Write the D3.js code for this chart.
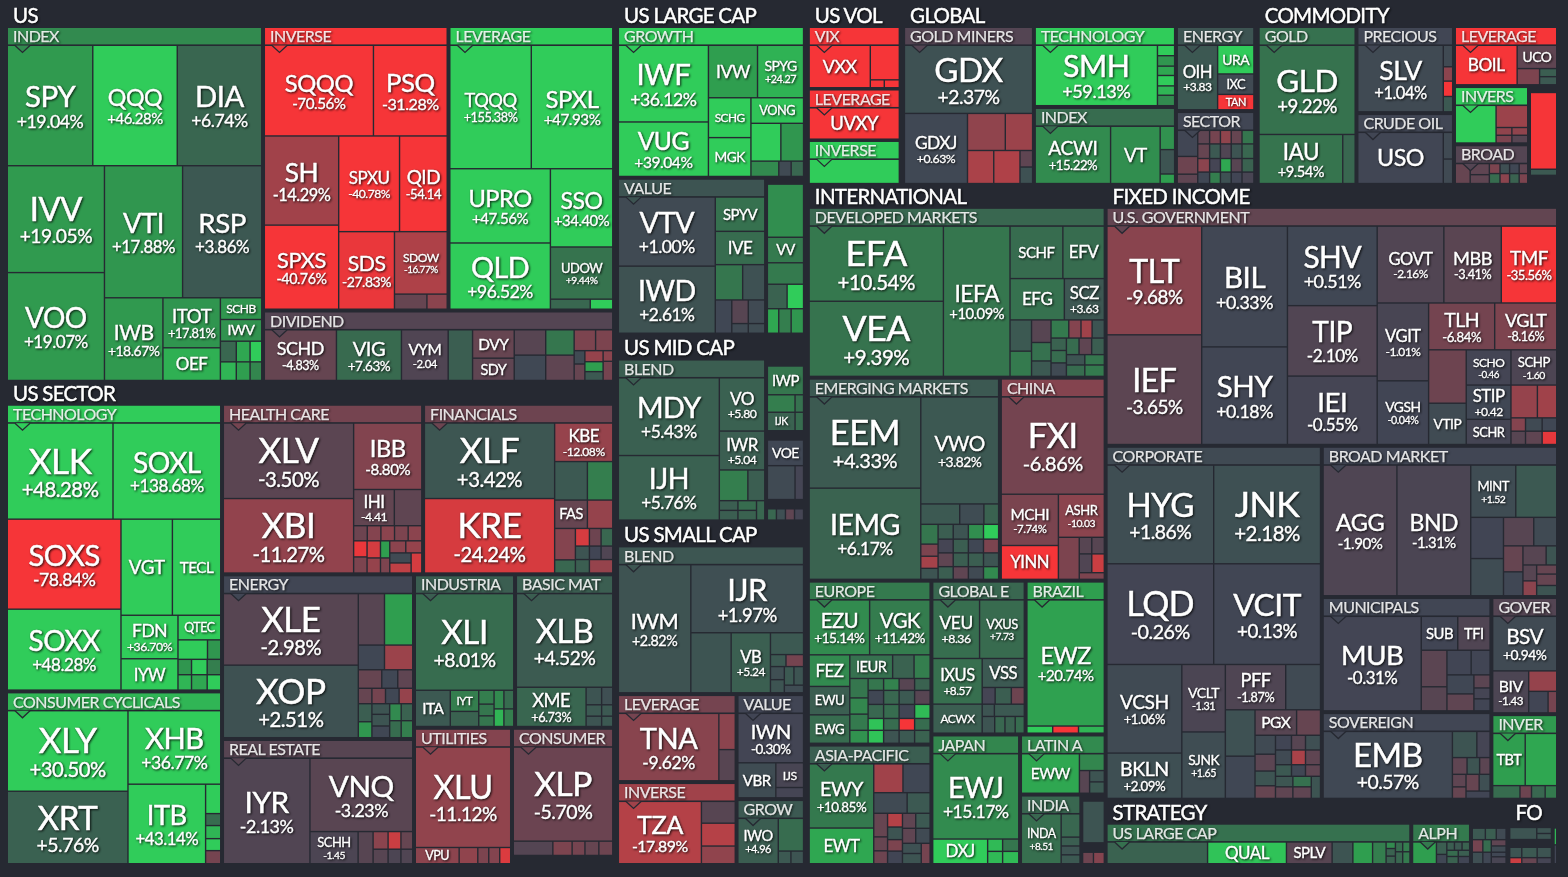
<!DOCTYPE html>
<html><head><meta charset="utf-8">
<script src="https://cdn.jsdelivr.net/npm/d3@7/dist/d3.min.js"></script>
<style>
html,body{margin:0;padding:0;background:#262932;overflow:hidden}
text{font-family:Lato,sans-serif;fill:#fff}
</style></head><body><svg id="map" width="1568" height="877"></svg>
<script>
// Leaf: [ticker, relative weight among siblings, % change, "%"|"n"|undefined for the shown change]
// Nesting: ["h"|"v", weight, children]. Blank ticker = unlabelled fund; null = empty room.
const usIndex=[
["h",120,[["SPY",85,19.04,"%"],["QQQ",84,46.28,"%"],["DIA",84,6.74,"%"]]],
["h",214,[["v",97,[["IVV",106,19.05,"%"],["VOO",107,19.07,"%"]]],
 ["v",157,[["h",131,[["VTI",78,17.88,"%"],["RSP",79,3.86,"%"]]],
  ["h",82,[["IWB",58,18.67,"%"],["v",57,[["ITOT",49,17.81,"%"],["OEF",32,24]]],
   ["v",41,[["SCHB",21,18],["IWV",21,17],["v",38,[["h",20,[["",15,7],["",13,22],["",11,45]]],["h",18,[["",15,25],["",13,20],["",11,14]]]]]]]]]]]]]];
const usInverse=[
["h",90,[["SQQQ",108,-70.56,"%"],["PSQ",73,-31.28,"%"]]],
["h",172,[["v",74,[["SH",88,-14.29,"%"],["SPXS",83,-40.76,"%"]]],
 ["v",108,[["h",95,[["SPXU",60,-40.78,"%"],["QID",47,-54.14,"n"]]],
  ["h",77,[["SDS",55,-27.83,"%"],["v",52,[["SDOW",62,-16.77,"%"],["h",15,[["",32,-5],["",20,-10]]]]]]]]]]]];
const usLeverage=[
["h",123,[["TQQQ",81,155.38,"%"],["SPXL",81,47.93,"%"]]],
["h",140,[["v",100,[["UPRO",74,47.56,"%"],["QLD",66,96.52,"%"]]],
 ["v",62,[["SSO",78,34.40,"%"],["UDOW",52,9.44,"%"],["h",10,[["",39,7],["",22,30]]]]]]]];
const usDividend=[
["SCHD",71,-4.83,"%"],["VIG",64,7.63,"%"],["VYM",46,-2.04,"n"],["",24,5],
["v",41,[["DVY",28,-5],["SDY",22,-4]]],
["v",31,[["",25,-3],["",25,0.6]]],["v",28,[["",25,10],["",25,-4]]],
["v",38,[["h",21,[["",20,-8],["",16,-8]]],["h",30,[["v",10,[["",13,1],["",16,-5]]],
 ["v",17,[["",10,-12],["",9,20],["",8,4]]],["v",9,[["",10,-10],["",18,-7]]]]]]]];
const techSector=[
["h",95,[["XLK",105,48.28,"%"],["SOXL",107,138.68,"%"]]],
["h",169,[["v",114,[["SOXS",89,-78.84,"%"],["SOXX",80,48.28,"%"]]],
 ["v",100,[["h",95,[["VGT",50,45],["TECL",47,50]]],
  ["h",74,[["v",56,[["FDN",43,36.70,"%"],["IYW",31,40]]],
   ["v",42,[["QTEC",24,38],["h",19,[["",29,32],["",13,18]]],["h",15,[["",13,18],["",15,30],["",13,12]]],["h",15,[["",13,25],["",15,22],["",13,30]]]]]]]]]]]];
const cyclicalSector=[
["v",121,[["XLY",80,30.50,"%"],["XRT",72,5.76,"%"]]],
["v",93,[["XHB",73,36.77,"%"],["h",79,[["ITB",77,43.14,"%"],["v",15,[["",27,30],["",11,8],["",12,25],["",11,30],["",12,-7]]]]]]]];
const healthSector=[
["v",130,[["XLV",75,-3.50,"%"],["XBI",74,-11.27,"%"]]],
["v",68,[["IBB",66,-8.80,"%"],["h",36,[["IHI",40,-4.41,"n"],["",27,-4]]],
 ["v",47,[["h",15,[["",13,-6],["",13,-9],["",13,-10],["",13,-8],["",13,-10]]],
  ["h",32,[["v",13,[["",13,-28],["",13,-8]]],["v",13,[["",17,-24],["",15,-12]]],["v",9,[["",17,20],["",15,-8]]],
   ["v",31,[["h",12,[["",14,-10],["",14,-12]]],["h",20,[["v",18,[["",9,1],["",9,-20]]],["",9,-24]]]]]]]]]]]];
const financeSector=[
["v",130,[["XLF",75,3.42,"%"],["KRE",74,-24.24,"%"]]],
["v",58,[["KBE",38,-12.08,"%"],["h",38,[["",31,4],["",24,12]]],["h",28,[["FAS",31,-5],["",24,-12]]],
 ["h",44,[["v",20,[["",31,-9],["",13,7]]],["v",36,[["h",17,[["",12,-24],["",10,-6],["",10,7]]],["h",13,[["",12,3],["",10,0],["",10,-2]]],["h",13,[["",12,5],["",20,-12]]]]]]]]]];
const energySector=[
["v",134,[["XLE",71,-2.98,"%"],["XOP",72,2.51,"%"]]],
["v",54,[["h",50,[["",26,-3],["",28,20]]],["h",24,[["",26,0.5],["",28,-13]]],
 ["h",18,[["",22,-5],["",15,0.5],["",14,-4]]],["h",15,[["",13,-5],["",13,-7],["",13,0.5],["",13,-12]]],
 ["h",33,[["v",13,[["",17,5],["",15,18]]],["v",17,[["",10,3],["",11,3],["",11,0.5]]],
  ["v",22,[["h",16,[["",11,15],["",11,6]]],["h",16,[["",11,8],["",11,12]]]]]]]]]];
const realEstateSector=[
["IYR",86,-2.13,"%"],
["v",102,[["VNQ",73,-3.23,"%"],["h",32,[["SCHH",45,-1.45,"n"],["",14,-3],["v",14,[["",17,-10],["",14,-3]]],["v",12,[["",17,-22],["",14,-1.5]]],["v",11,[["",17,-5],["",14,-2]]]]]]]];
const industrialSector=[
["XLI",96,8.01,"%"],
["h",36,[["ITA",32,4],["v",26,[["IYT",21,12],["",15,6]]],["v",14,[["",13,12],["",11,10],["",10,10]]],["v",9,[["",18,15],["",17,25]]],["v",9,[["",18,8],["",17,12]]]]]];
const materialSector=[
["XLB",93,4.52,"%"],
["h",39,[["XME",68,6.73,"%"],["v",26,[["h",17,[["",14,3],["",10,2]]],["h",11,[["",14,4],["",10,4]]],["h",10,[["",14,3],["",10,4]]]]]]]];
const utilitySector=[["XLU",99,-11.12,"%"],["h",16,[["VPU",40,-10],["",17,-11],["",10,-8],["",10,-9],["",10,-25]]]];
const staplesSector=[["XLP",92,-5.70,"%"],["h",14,[["",37,-2.5],["",18,-8],["",12,-7],["",13,-5],["",13,-6]]]];

const lcGrowth=[
["v",89,[["IWF",76,36.12,"%"],["VUG",54,39.04,"%"]]],
["v",94,[["h",52,[["IVW",48,20],["SPYG",45,24.27,"n"]]],
 ["h",78,[["v",42,[["SCHG",39,32],["MGK",38,30]]],
  ["v",52,[["VONG",25,28],["h",37,[["",29,30],["",22,18]]],["h",15,[["",27,15],["",12,1],["",12,7]]]]]]]]]];
const lcValue=[
["v",96,[["VTV",69,1.00,"%"],["IWD",67,2.61,"%"]]],
["v",49,[["SPYV",34,9],["IVE",33,8],["h",35,[["",26,10],["",21,2.5]]],
 ["h",33,[["",15,0.5],["v",15,[["",22,-3],["",9,1]]],["v",15,[["",22,1],["",9,1.5]]]]]]]];
const lcSide=[[null,5],["",52,16],["VV",25,11],["",21,11],
["h",24,[["",18,6],["",15,32]]],["h",24,[["",11,22],["",12,12],["",12,18]]]];
const mcBlend=[
["v",100,[["MDY",77,5.43,"%"],["IJH",64,5.76,"%"]]],
["v",45,[["VO",52,5.80,"n"],["IWR",38,5.04,"n"],
 ["h",30,[["",27,12],["",16,5]]],["h",19,[["v",36,[["h",9,[["",18,5],["",18,8]]],["h",9,[["",18,5],["",18,6]]]]],["",8,7]]]]]];
const mcSide=[[null,6],["IWP",28,10],["h",17,[["",26,12],["",8,9]]],["h",18,[["IJK",26,6],["",8,8]]],[null,9],
["VOE",25,0.5],["h",33,[["",26,1],["",8,-0.5]]],[null,9],["h",11,[["",8,7],["",8,2],["",8,-4],["",8,-0.5]]]];
const scBlend=[
["IWM",72,2.82,"%"],
["v",112,[["IJR",68,1.97,"%"],["h",60,[["",39,3],["VB",38,5.24,"n"],
 ["v",32,[["",20,4],["h",11,[["",15,4],["",17,-7]]],["h",24,[["v",13,[["",12,2],["",12,3]]],["v",18,[["h",17,[["",8,4],["",8,3]]],["",7,1.5]]]]]]]]]]]];
const scLeverage=[["TNA",98,-9.62,"%"],["v",16,[["",36,-10],["",31,-3]]]];
const scInverse=[["TZA",81,-17.89,"%"],["v",33,[["",21,-3],["",22,-18],["",17,-11]]]];
const scValue=[["IWN",48,-0.30,"%"],["h",34,[["VBR",37,1.5],["v",27,[["IJS",24,-1],["",10,-0.5]]]]]];
const scGrowth=[["IWO",40,4.96,"n"],["v",25,[["",31,8],["h",12,[["",12,4],["",12,3]]]]]];

const volVix=[["VXX",59,-50],["v",28,[["",35,-50],["h",8,[["",13,-50],["",14,-50]]]]]];
const volLeverage=[["UVXY",1,-60]];
const volInverse=[["",1,42]];
const goldMiners=[
["GDX",68,2.37,"%"],
["h",70,[["GDXJ",62,0.63,"%"],["v",64,[["h",37,[["",36,-11],["",26,-13]]],["h",33,[["",25,-16],["",25,-17],["v",12,[["",16,-4],["",16,2.5]]]]]]]]]];
const globalTech=[["SMH",121,59.13,"%"],["v",17,[["",10,30],["",10,18],["",9,22],["",10,30],["",9,25],["",10,15]]]];
const globalIndex=[["ACWI",73,15.22,"%"],["VT",48,16],["v",14,[["",22,17],["",23,3],["",9,20]]]];
const globalEnergy=[["OIH",39,3.83,"n"],["v",35,[["URA",28,50],["IXC",20,1],["TAN",15,-40]]]];
const globalSector=[
["v",19,[["",25,0.3],["",17,-6],["",9,-4]]],
["v",11,[["",13,-4],["",14,-5],["",13,-10],["",11,0.5]]],
["v",10,[["",13,-7],["",14,4],["",13,-0.5],["",11,12]]],
["v",10,[["",13,-11],["",14,-2],["",13,22],["",11,2.5]]],
["v",10,[["",13,-5],["",14,3],["",13,-3],["",11,0]]],
["v",11,[["",13,10],["",14,7],["",13,6],["",11,-1]]]];
const goldFunds=[["GLD",89,9.22,"%"],["h",49,[["IAU",81,9.54,"%"],["",12,7]]]];
const preciousFunds=[["SLV",82,1.04,"%"],["v",9,[["",21,1],["",14,-10],["",15,-40],["",15,4]]]];
const crudeFunds=[["USO",82,0.2],["v",9,[["",25,1],["",23,1]]]];
const commodityLeverage=[["BOIL",61,-40],["v",39,[["UCO",23,-4],["h",16,[["",21,-8],["v",16,[["",8,5],["",8,4]]]]]]]];
const commodityInverse=[["",40,40],["v",31,[["",20,-13],["h",7,[["",15,-11],["",15,-11]]],["h",7,[["",15,-8],["",15,-3]]]]]];
const commodityBroad=[
["",14,-5],["v",18,[["",10,-4],["",8,-4]]],["v",10,[["",9,-8],["",9,8]]],["v",9,[["",9,2],["",9,-10]]],["v",9,[["",9,0.5],["",9,6]]],["v",8,[["",9,-4],["",9,-8]]]];
const commoditySide=[[null,5],["",75,-42],["",6,4],[null,8]];

const developedMarkets=[
["v",131,[["EFA",75,10.54,"%"],["VEA",75,9.39,"%"]]],
["IEFA",65,10.09,"%"],
["v",92,[["h",52,[["SCHF",51,8],["EFV",40,8]]],["h",41,[["EFG",53,9],["SCZ",39,3.63,"n"]]],
 ["h",56,[["v",21,[["",31,4],["",25,11]]],["v",19,[["",22,-3],["",18,9],["",15,4]]],
  ["v",52,[["h",18,[["",16,11],["",11,-9],["",10,-14],["",11,3]]],["h",38,[["v",15,[["",12,6],["",12,8],["",13,1]]],["v",37,[["h",16,[["",11,8],["",11,-4],["",11,5]]],["h",10,[["",17,3],["",18,10]]],["h",11,[["",17,8],["",18,11]]]]]]]]]]]]]];
const emergingMarkets=[
["v",109,[["EEM",90,4.33,"%"],["IEMG",90,6.17,"%"]]],
["v",76,[["VWO",105,3.82,"%"],["h",20,[["",37,4],["",23,1.5],["",14,6]]],
 ["h",54,[["v",16,[["",18,10],["",11,-8],["",11,-15],["",10,3]]],["v",14,[["",14,5],["",13,-0.5],["",13,-4],["",12,5]]],
  ["v",14,[["",14,3],["",13,5],["",13,5],["",12,-4]]],["v",14,[["",14,16],["",13,0.5],["",13,5],["",12,1]]],["v",14,[["",14,36],["",13,-8],["",13,3],["",12,15]]]]]]]];
const chinaFunds=[
["FXI",96,-6.86,"%"],
["h",84,[["v",56,[["MCHI",50,-7.74,"%"],["YINN",33,-50]]],
 ["v",45,[["ASHR",42,-10.03,"n"],["h",41,[["",20,-8],["v",24,[["h",15,[["",11,-3],["",11,-3]]],["h",17,[["",11,-2],["",11,-22]]],["",6,-8]]]]]]]]]];
const europeFunds=[
["h",54,[["EZU",59,15.14,"%"],["VGK",59,11.42,"%"]]],
["h",87,[["v",40,[["FEZ",30,15],["EWU",27,5],["EWG",27,8]]],
 ["v",79,[["h",23,[["IEUR",40,9],["",20,6],["",15,12]]],
  ["h",63,[["v",18,[["",18,10],["",15,14],["",15,11],["",12,17]]],
   ["v",61,[["h",11,[["",14,10],["",14,13],["",14,-3],["",14,6]]],["h",13,[["",14,0.5],["",14,7],["",14,4],["",14,-3]]],["h",13,[["",14,7],["",14,8],["",14,0],["",14,26]]],["h",11,[["",14,28],["",14,8],["",14,-40],["",14,8]]],["h",12,[["",14,28],["",14,3],["",14,4],["",14,6]]]]]]]]]]]];
const exUsFunds=[
["h",58,[["VEU",44,8.36,"n"],["VXUS",42,7.73,"n"]]],
["h",74,[["v",47,[["IXUS",44,8.57,"n"],["ACWX",28,5]]],
 ["v",40,[["VSS",26,4],["h",15,[["",12,-0.5],["",15,5],["",12,-6]]],["h",11,[["",11,3],["",27,4]]],["h",15,[["",11,3],["",9,7],["",9,6],["",8,8]]]]]]]];
const brazilFunds=[["EWZ",124,20.74,"%"],["h",7,[["",24,30],["",24,-40],["",24,25]]]];
const asiaFunds=[
["v",63,[["EWY",63,10.85,"%"],["EWT",35,22]]],
["v",55,[["h",28,[["",28,-14],["",26,0.5]]],["h",20,[["",32,1],["",22,4]]],
 ["h",49,[["v",13,[["",22,-5],["",13,-5],["",12,-6]]],["v",14,[["",12,-18],["",11,3],["",10,-8],["",11,0]]],
  ["v",26,[["h",14,[["",12,-4],["",13,4]]],["h",14,[["",12,-4],["",13,1]]],["h",19,[["v",17,[["",9,2.5],["",9,3]]],["",8,-7]]]]]]]]]];
const japanFunds=[["EWJ",83,15.17,"%"],["h",24,[["DXJ",53,37],["v",30,[["h",12,[["",13,26],["",14,10]]],["h",12,[["",13,26],["",14,26]]]]]]]];
const latinFunds=[["EWW",56,22],["v",24,[["",17,14],["h",23,[["",9,-3],["v",13,[["",11,3],["",11,4]]]]]]]];
const indiaFunds=[["INDA",38,8.51,"n"],["v",18,[["",21,7],["",8,5],["",8,3],["",8,4]]]];
const indiaSide=[[null,5],["",40,3],[null,9],["h",11,[["",10,-6],["",10,-9]]]];

const usGovernment=[
["v",94,[["TLT",107,-9.68,"%"],["IEF",108,-3.65,"%"]]],
["v",85,[["BIL",120,0.33,"%"],["SHY",97,0.18,"%"]]],
["v",89,[["SHV",79,0.51,"%"],["TIP",70,-2.10,"%"],["IEI",68,-0.55,"%"]]],
["v",178,[["h",76,[["GOVT",65,-2.16,"%"],["MBB",56,-3.41,"%"],["TMF",54,-35.56,"%"]]],
 ["h",140,[["v",51,[["VGIT",77,-1.01,"%"],["VGSH",63,-0.04,"%"]]],
  ["v",127,[["h",46,[["TLH",65,-6.84,"%"],["VGLT",61,-8.16,"%"]]],
   ["h",93,[["v",37,[["",53,-6],["VTIP",41,1.2]]],
    ["v",89,[["h",35,[["SCHO",44,-0.46,"n"],["SCHP",45,-1.60,"n"]]],
     ["h",59,[["v",44,[["STIP",34,0.42,"n"],["SCHR",25,-0.5]]],
      ["v",45,[["h",32,[["",26,-12],["",19,-14]]],["h",13,[["",14,-9],["",16,1],["",14,0.5]]],["h",13,[["",14,-3],["",16,-4],["",14,-27]]]]]]]]]]]]]]]]]];
const corporateBonds=[
["h",98,[["HYG",105,1.86,"%"],["JNK",105,2.18,"%"]]],
["h",100,[["LQD",105,-0.26,"%"],["VCIT",105,0.13,"%"]]],
["h",133,[["v",74,[["VCSH",88,1.06,"%"],["BKLN",45,2.09,"%"]]],["v",43,[["VCLT",67,-1.31,"n"],["SJNK",66,1.65,"n"]]],
 ["v",94,[["h",45,[["PFF",59,-1.87,"%"],["",34,1]]],
  ["h",88,[["v",29,[["",45,2.5],["",41,0.5]]],
   ["v",64,[["h",25,[["PGX",40,-3],["",23,-5]]],
    ["h",62,[["v",15,[["",18,1],["",16,-3.5],["",14,3],["",12,-5]]],
     ["v",33,[["h",14,[["",16,0],["",14,-3],["",15,2]]],["h",14,[["",16,1],["",14,-16],["",15,-4]]],["h",11,[["",16,4],["",14,0.5],["",15,-4]]],["h",21,[["v",17,[["",10,3.5],["",11,-4]]],["v",18,[["",10,9],["",11,-4]]],["",9,3]]]]]]]]]]]]]]]];
const broadBonds=[
["AGG",73,-1.90,"%"],["BND",73,-1.31,"%"],
["v",85,[["h",52,[["MINT",44,1.52,"n"],["",40,4]]],
 ["h",78,[["v",32,[["",41,0],["",37,1.5]]],
  ["v",52,[["h",28,[["",29,-3],["",22,1]]],
   ["h",49,[["v",19,[["",25,-5],["",23,0.5]]],
    ["v",33,[["h",18,[["",22,-3],["",10,3]]],["h",29,[["v",13,[["",15,-3],["",14,-10]]],["v",19,[["",8,-5],["",10,-5],["",9,3]]]]]]]]]]]]]]]];
const muniBonds=[
["MUB",97,-0.31,"%"],
["v",68,[["h",33,[["SUB",35,0.1],["TFI",31,-2]]],
 ["h",59,[["v",25,[["",35,-3.5],["",23,-3]]],
  ["v",42,[["h",24,[["",23,0],["",18,0]]],["h",35,[["v",25,[["",18,0.5],["",16,-4]]],["v",15,[["",12,-3.5],["",10,-0.5],["",11,0]]]]]]]]]]]];
const govBonds=[["BSV",52,0.94,"%"],["h",40,[["BIV",36,-1.43,"n"],["v",28,[["",20,-12],["h",21,[["",18,0],["",8,-7]]]]]]]];
const sovereignBonds=[
["EMB",127,0.57,"%"],
["v",37,[["h",25,[["",24,3],["",13,-0.5]]],["h",16,[["",14,-4],["",12,3],["",10,-3.5]]],
 ["h",23,[["v",13,[["",12,-4],["",11,-5]]],["v",23,[["h",16,[["",12,-5],["",10,2]]],["",7,0]]]]]]]];
const inverseBonds=[["h",49,[["TBT",32,20],["",31,22]]],["h",12,[["",26,8],["",11,-6],["",13,7],["",11,11]]]];

const strategyLarge=[["",97,6],["QUAL",76,28],["SPLV",44,-3],["",20,3],["",19,20],["",13,12],
["v",9,[["",6,15],["",7,6],["",7,6]]],["v",7,[["",9,8],["",11,7]]],["v",7,[["",9,12],["",11,11]]]];
const strategyAlpha=[["",23,20],["v",10,[["",12,5],["",9,0.5]]],
["v",22,[["h",8,[["",7,5],["",7,4],["",7,6]]],["h",6,[["",10,8],["",10,5]]],["h",7,[["",10,6],["",10,0]]]]]];
const strategySide=[[null,4],["h",11,[["",12,4],["",10,5],["",9,1]]],
["h",12,[["",10,-7],["",8,8],["v",14,[["",6,-4],["",6,1]]]]],["h",11,[["",10,2],["",8,0.5],["v",14,[["",4,0.5],["",6,-1]]]]]];
const foreignGrid=[
["v",42,[[null,4],["h",14,[["",24,3],["v",13,[["",7,3],["",7,3]]]]],[null,9],["h",12,[["",11,3],["",14,4],["",13,3]]],["h",7,[["",11,-22],["",14,-5],["",13,-0.5]]]]],
["v",5,[[null,4],["",17,25],["",19,0]]]];

const changeStops=[-30,-20,-10,0,10,20,30];
const changeColors=["#f63538","#bf4045","#8b444e","#414554","#35764e","#2f9e4f","#30cc5a"];

// ----- build the hierarchy for d3.treemap from the named arrays above
const leafOrSplit=a=>{
  if(!Array.isArray(a)) return a;
  if(Array.isArray(a[2])) return {dir:a[0],w:a[1],children:a[2].map(leafOrSplit)};
  return {name:a[0],w:a[1],chg:a[2],fmt:a[3]};
};
const group=(label,w,chg,dir,kids)=>({label,w,chg,dir,head:18,children:kids.map(leafOrSplit)});
const box=(w,dir,kids,gap=4)=>({w,dir,gap,children:kids.map(leafOrSplit)});
const plain=(w,kids)=>({w,dir:"v",children:kids.map(leafOrSplit)});
const cat=(title,w,head,dir,kids,gap=4)=>({title,w,head,dir,gap,children:kids.map(leafOrSplit)});

const tree={dir:"h",gap:7,children:[
 box(608.5,"v",[
  cat("US",377,23,"h",[
   group("INDEX",257,15,"v",usIndex),
   box(351,"v",[
    box(281.5,"h",[group("INVERSE",186,-35,"v",usInverse),group("LEVERAGE",166,45,"v",usLeverage)]),
    group("DIVIDEND",70.5,-2.5,"h",usDividend)])]),
  cat("US SECTOR",481,22,"h",[
   box(216,"v",[group("TECHNOLOGY",285,47,"v",techSector),group("CONSUMER CYCLICALS",172,25,"h",cyclicalSector)]),
   box(392,"v",[
    box(169,"h",[group("HEALTH CARE",199,-7,"h",healthSector),group("FINANCIALS",189,-6,"h",financeSector)]),
    box(288,"h",[
     box(190,"v",[group("ENERGY",162,0.2,"h",energySector),group("REAL ESTATE",124,-3,"h",realEstateSector)]),
     box(198,"v",[
      box(151,"h",[group("INDUSTRIA",99,5,"v",industrialSector),group("BASIC MAT",97,5,"v",materialSector)]),
      box(135,"h",[group("UTILITIES",96,-9,"v",utilitySector),
       box(100,"v",[group("CONSUMER",125,-6,"v",staplesSector),[null,8]])])])])])])]),
 box(190,"v",[
  cat("US LARGE CAP",330,23,"v",[
   group("GROWTH",150,40,"h",lcGrowth),
   box(155,"h",[group("VALUE",146,3,"h",lcValue),plain(38,lcSide)])]),
  cat("US MID CAP",186,24,"h",[group("BLEND",146,5,"h",mcBlend),plain(38,mcSide)]),
  cat("US SMALL CAP",342,24,"v",[
   group("BLEND",147,3.5,"h",scBlend),
   box(169,"h",[
    box(119,"v",[group("LEVERAGE",87,-7,"h",scLeverage),group("INVERSE",82,-14,"h",scInverse)]),
    box(68,"v",[group("VALUE",102,0,"v",scValue),group("GROW",64,4,"h",scGrowth)])])])]),
 box(750,"v",[
  box(181,"h",[
   cat("US VOL",95.25,23,"v",[group("VIX",62,-50,"h",volVix),group("LEVERAGE",51,-50,"h",volLeverage),group("INVERSE",44,42,"h",volInverse)],3.5),
   cat("GLOBAL",354.5,23,"h",[
    group("GOLD MINERS",130.75,-2.5,"v",goldMiners),
    box(142,"v",[group("TECHNOLOGY",79,45,"h",globalTech),group("INDEX",76,8,"h",globalIndex)]),
    box(79.25,"v",[group("ENERGY",83,3,"h",globalEnergy),group("SECTOR",72,0.3,"h",globalSector)])]),
   cat("COMMODITY",302.75,23,"h",[
    group("GOLD",98.75,9,"v",goldFunds),
    box(97.5,"v",[group("PRECIOUS",85,0.3,"h",preciousFunds),group("CRUDE OIL",70,0.3,"h",crudeFunds)]),
    box(104,"v",[group("LEVERAGE",59,-45,"h",commodityLeverage),
     box(97,"h",[
      box(75,"v",[group("INVERS",56,40,"h",commodityInverse),group("BROAD",39,-2.5,"h",commodityBroad)]),
      plain(29,commoditySide)])])])],6.5),
  box(677,"h",[
   cat("INTERNATIONAL",297.5,22,"v",[
    group("DEVELOPED MARKETS",170,7,"h",developedMarkets),
    box(202,"h",[group("EMERGING MARKETS",189,4,"h",emergingMarkets),group("CHINA",104,-9,"v",chinaFunds)]),
    box(283,"h",[
     box(122,"v",[group("EUROPE",162,11,"v",europeFunds),group("ASIA-PACIFIC",119,5,"h",asiaFunds)]),
     box(172,"v",[
      box(152,"h",[group("GLOBAL E",93,7,"v",exUsFunds),group("BRAZIL",79,20,"v",brazilFunds)]),
      box(129,"h",[group("JAPAN",87,14,"v",japanFunds),
       box(84,"v",[group("LATIN A",58,15,"h",latinFunds),
        box(68,"h",[group("INDIA",58,7,"h",indiaFunds),plain(23,indiaSide)])])])])])]),
   box(452,"v",[
    cat("FIXED INCOME",612,22,"v",[
     group("U.S. GOVERNMENT",237,-4.5,"h",usGovernment),
     box(351,"h",[
      group("CORPORATE",216,1,"v",corporateBonds),
      box(236,"v",[
       group("BROAD MARKET",150,0.2,"h",broadBonds),
       box(201,"h",[
        box(168,"v",[group("MUNICIPALS",113,0.2,"h",muniBonds),group("SOVEREIGN",86,0.2,"h",sovereignBonds)]),
        box(66,"v",[group("GOVER",115,-2.5,"v",govBonds),group("INVER",84,19,"v",inverseBonds)])])])])]),
    box(65,"h",[
     cat("STRATEGY",398,23,"h",[group("US LARGE CAP",302,9,"h",strategyLarge),group("ALPH",59,11,"h",strategyAlpha),plain(36,strategySide)]),
     cat("FO",50,23,"h",foreignGrid)],5)])])])]};

// ----- layout
const W=1568,H=877;
const root=d3.hierarchy(tree,d=>d.children);
root.each(n=>{n.value=n.data.w||1});
const tile=(node,x0,y0,x1,y1)=>{
  const horizontal=node.data.dir==="h";
  const pos=d3.scaleLinear([0,d3.sum(node.children,k=>k.value)],horizontal?[x0,x1]:[y0,y1]);
  let acc=0;
  node.children.forEach(k=>{
    const a=pos(acc); acc+=k.value; const b=pos(acc);
    if(horizontal){k.x0=a;k.x1=b;k.y0=y0;k.y1=y1}else{k.y0=a;k.y1=b;k.x0=x0;k.x1=x1}
  });
};
d3.treemap().size([W,H]).tile(tile)
  .paddingInner(n=>n.data.gap??1.4)
  .paddingTop(n=>n.depth===0?5:(n.data.head||0))
  .paddingLeft(n=>n.depth===0?8:0)
  .paddingRight(n=>n.depth===0?12:0)
  .paddingBottom(n=>n.depth===0?14:0)(root);

const color=d3.scaleLinear().domain(changeStops).range(changeColors).clamp(true);
const loc=d3.formatLocale({decimal:".",thousands:",",grouping:[3],currency:["$",""],minus:"-"});
const fmt=loc.format("+.2f");

const svg=d3.select("#map");
const BG="#262932";
svg.append("rect").attr("width",W).attr("height",H).attr("fill",BG);

const leaves=root.leaves().filter(n=>n.data.name!==null&&n.data.name!==undefined);
svg.append("g").selectAll("rect").data(leaves).join("rect")
  .attr("x",d=>d.x0).attr("y",d=>d.y0)
  .attr("width",d=>Math.max(0,d.x1-d.x0)).attr("height",d=>Math.max(0,d.y1-d.y0))
  .attr("fill",d=>color(d.data.chg));

const groups=root.descendants().filter(n=>n.data.label);
const heads=svg.append("g");
heads.selectAll("rect").data(groups).join("rect")
  .attr("x",d=>d.x0).attr("y",d=>d.y0)
  .attr("width",d=>d.x1-d.x0).attr("height",16.4)
  .attr("fill",d=>color(d.data.chg));
heads.selectAll("path").data(groups).join("path")
  .attr("d",d=>{const p=d3.path(),x=d.x0+7,y=d.y0+17.4;p.moveTo(x,y);p.lineTo(x+7.5,y+7);p.lineTo(x+15,y);return p})
  .attr("fill",d=>color(d.data.chg)).attr("stroke",BG).attr("stroke-width",1.3);

const labels=svg.append("g").style("filter","drop-shadow(1px 1px 1px rgba(0,0,0,.8))");
labels.selectAll("text.h").data(groups).join("text").attr("class","h")
  .attr("x",d=>d.x0+5).attr("y",d=>d.y0+8.4).attr("dy",".36em")
  .attr("font-size",16).attr("letter-spacing","-0.5px").attr("fill-opacity",.85)
  .attr("stroke","#fff").attr("stroke-opacity",.8).attr("stroke-width",.25)
  .text(d=>d.data.label);
labels.selectAll("text.c").data(root.descendants().filter(n=>n.data.title)).join("text").attr("class","c")
  .attr("x",d=>d.x0+5).attr("y",d=>d.y0+d.data.head-12.5).attr("dy",".36em")
  .attr("font-size",20.5).attr("letter-spacing","-0.7px")
  .attr("stroke","#fff").attr("stroke-width",.45)
  .text(d=>d.data.title);

const ctx=document.createElement("canvas").getContext("2d");
const em=s=>{ctx.font="400 100px Lato";return ctx.measureText(s).width/100};
const LS=-0.03;
const weight=f=>.2+f*.009;
leaves.filter(n=>n.data.name).forEach(n=>{
  const w=n.x1-n.x0,h=n.y1-n.y0,d=n.data,s=Math.sqrt(w*h);
  const sub=d.fmt?fmt(d.chg)+(d.fmt==="%"?"%":""):null;
  const name=d.name;
  const maxW=Math.min(.95*w,.55*w+8);
  const wEm=em(name)+LS*name.length;
  const target=Math.max(.36*s,Math.min(.5*s,17));
  const f=Math.min(target,.28*w+6,maxW/wEm,(sub?.62:.95)*h);
  let sf=sub?.45*f+4.5:0;
  if(sub) sf=Math.min(sf,.95*w/(em(sub)+LS*sub.length));
  const cy=(n.y0+n.y1)/2,cx=(n.x0+n.x1)/2;
  const yName=cy-(f+sf)/2+f/2;
  const t=labels.append("text").attr("text-anchor","middle").attr("letter-spacing",LS+"em").attr("stroke","#fff");
  t.append("tspan").attr("x",cx).attr("y",yName).attr("dy",".36em").attr("font-size",f).attr("stroke-width",weight(f)).text(name);
  if(sub) t.append("tspan").attr("x",cx).attr("y",yName+f/2+sf/2+1).attr("dy",".36em").attr("font-size",sf).attr("stroke-width",weight(sf)).text(sub);
});
</script></body></html>
